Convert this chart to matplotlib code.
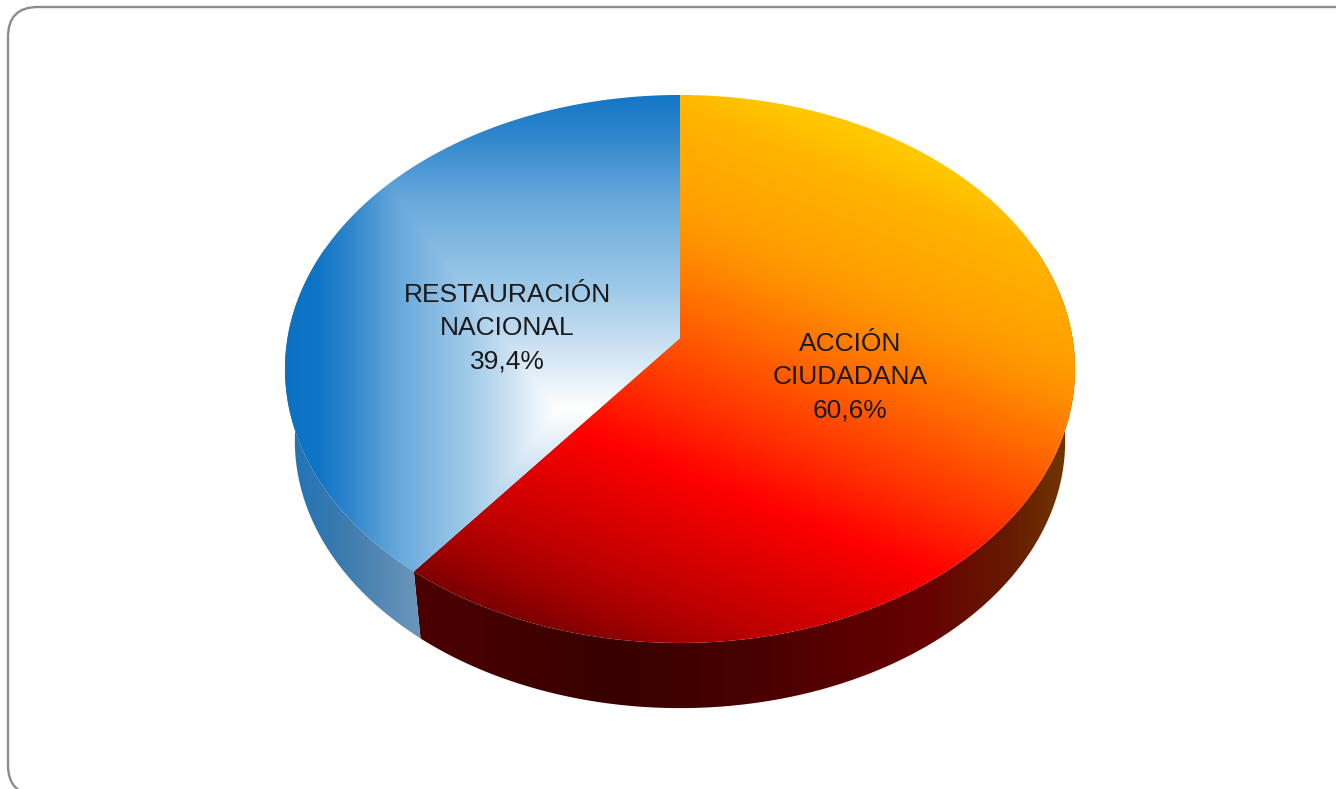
#!/usr/bin/env python3
"""3D pie: Accion Ciudadana vs Restauracion Nacional"""
import numpy as np
import matplotlib
matplotlib.use('Agg')
import matplotlib.pyplot as plt
from matplotlib.colors import LinearSegmentedColormap
from matplotlib.patches import PathPatch, FancyBboxPatch
from matplotlib.path import Path

parties = ['ACCIÓN\nCIUDADANA', 'RESTAURACIÓN\nNACIONAL']
shares = [60.6, 39.4]

W, H = 1336, 789
CX, CY = 680.0, 338.0      # where the pie centre lands on screen
A, B, K = 392.5, 232.3, 0.113   # perspective of the disc
ELL_CY = 369.0             # centre of the outline ellipse
RIM_S, RIM_DY = 0.975, 72.0 # lower face relative to the upper one


def top_xy(theta):
    """theta in degrees, clockwise from 12 o'clock -> pixel coords on the top face."""
    t = np.radians(theta)
    u, v = np.sin(t), -np.cos(t)
    w = 1 - K * v
    return CX + A * u / w, (B * v + CY) / w


def low_xy(theta):
    x, y = top_xy(theta)
    return CX + RIM_S * (x - CX), ELL_CY + RIM_S * (y - ELL_CY) + RIM_DY


def clipped_image(ax, rgb, path, zorder):
    im = ax.imshow(rgb, extent=(0, W, H, 0), aspect='auto', interpolation='bilinear', zorder=zorder)
    patch = PathPatch(path, transform=ax.transData, fc='none', ec='none')
    ax.add_patch(patch)
    im.set_clip_path(patch)
    return im


def ramp(values, stops):
    """Piecewise colour ramp. stops = [(pos, '#rrggbb'), ...]"""
    lo, hi = stops[0][0], stops[-1][0]
    cmap = LinearSegmentedColormap.from_list('r', [((p - lo) / (hi - lo), c) for p, c in stops], N=1024)
    return cmap(np.clip((values - lo) / (hi - lo), 0, 1))[..., :3]


def wedge_path(a0, a1):
    th = np.linspace(a0, a1, 300)
    xs, ys = top_xy(th)
    pts = np.column_stack([np.r_[CX, xs, CX], np.r_[CY, ys, CY]])
    return Path(pts, closed=True)


def rim_path(a0, a1):
    th = np.linspace(a0, a1, 300)
    tx, ty = top_xy(th)
    lx, ly = low_xy(th[::-1])
    pts = np.column_stack([np.r_[tx, lx, tx[0]], np.r_[ty, ly, ty[0]]])
    return Path(pts, closed=True)


fig = plt.figure(figsize=(W / 100, H / 100), dpi=100, facecolor='white')
ax = fig.add_axes([0, 0, 1, 1])
ax.set_xlim(0, W)
ax.set_ylim(H, 0)
ax.axis('off')

# panel frame, runs off the right and bottom edges
ax.add_patch(FancyBboxPatch((38, 37), 1300, 728, boxstyle='round,pad=30,rounding_size=30',
                            fc='white', ec='#8c8c8c', lw=1.7, zorder=1))

yy, xx = np.mgrid[0:H, 0:W] + 0.5

# slice boundaries, clockwise from the top
split = shares[0] / sum(shares) * 360

# ---- rim ----
red_rim = ramp(xx, [(414, '#4c0000'), (617, '#380000'), (748, '#480000'), (922, '#660000'),
                    (1008, '#661a00'), (1052, '#6e3000'), (1075, '#703400')])
clipped_image(ax, red_rim, rim_path(70, split), 2)
blue_rim = ramp(xx, [(290, '#1f74b8'), (340, '#3a7aae'), (420, '#6c96ba')])
clipped_image(ax, blue_rim, rim_path(split, 290), 2)

# ---- top face ----
# red slice: linear gradient leaning to lower left
n = -0.371 * xx + 0.928 * yy
red_top = ramp(n, [(-194, '#ffc800'), (-150, '#ffb400'), (-66, '#ffa000'), (-28, '#ff9000'),
                   (35, '#ff6800'), (119, '#ff3000'), (185, '#ff0000'), (300, '#c00000'),
                   (345, '#a00000'), (378, '#800000'), (420, '#6a0000')])
clipped_image(ax, red_top, wedge_path(0, split), 3)

# blue slice: rectangular path gradient, white in the middle (no falloff to the right)
t = np.maximum(np.maximum(557 - xx, 0) / 272, np.abs(yy - 410) / 362)
blue_top = ramp(t, [(0, '#ffffff'), (0.22, '#bfdaf0'), (0.33, '#a0cae9'), (0.58, '#68a9dc'),
                    (0.76, '#2f86cd'), (0.88, '#0f75c6'), (1, '#0a72c4')])
clipped_image(ax, blue_top, wedge_path(split, 360), 3)

# ---- labels ----
for name, val, (lx, ly) in zip(parties, shares, [(850, 377), (507, 328)]):
    txt = name + '\n' + f'{val:.1f}'.replace('.', ',') + '%'
    ax.text(lx, ly, txt, ha='center', va='center', ma='center', fontsize=19, linespacing=1.5,
            family='Liberation Sans', color='#1a1a1a', zorder=5)

ax.set_xlim(0, W)
ax.set_ylim(H, 0)
fig.savefig('out.png', dpi=100)
